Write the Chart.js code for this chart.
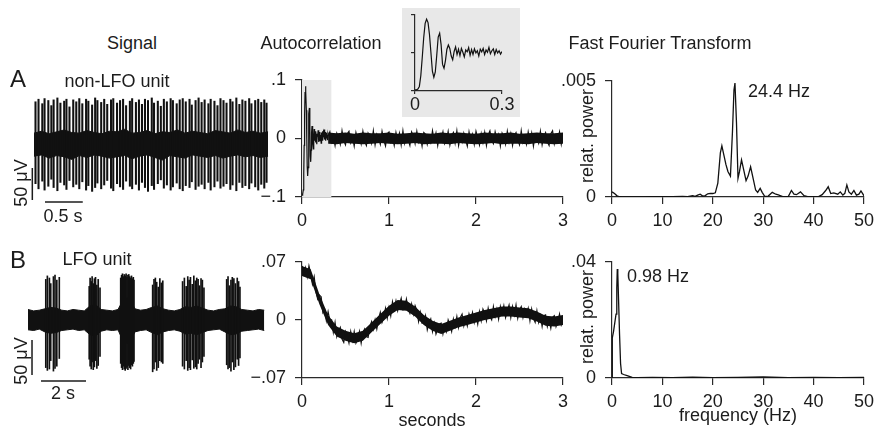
<!DOCTYPE html>
<html>
<head>
<meta charset="utf-8">
<script src="https://cdn.jsdelivr.net/npm/chart.js@4/dist/chart.umd.min.js"></script>
<style>
body { margin: 0; background: #fff; width: 880px; height: 430px; position: relative; overflow: hidden;
       font-family: "Liberation Sans", Arial, Helvetica, sans-serif; color: #1c1c1c; }
canvas { position: absolute; }
.t { position: absolute; font-size: 18px; line-height: 1; white-space: nowrap; transform: translate(-50%, -50%); }
.rot { transform: translate(-50%, -50%) rotate(-90deg); }
.big { font-size: 24px; }
#inset { background: #e8e8e8; }
</style>
</head>
<body>
<canvas id="sigA" width="250" height="120" style="left:25px;top:90px"></canvas>
<canvas id="sigB" width="255" height="125" style="left:20px;top:265px"></canvas>
<canvas id="acA" width="340" height="180" style="left:240px;top:60px"></canvas>
<canvas id="acB" width="340" height="179" style="left:240px;top:242px"></canvas>
<canvas id="fftA" width="340" height="179" style="left:540px;top:61px"></canvas>
<canvas id="fftB" width="340" height="179" style="left:540px;top:242px"></canvas>
<canvas id="inset" width="118" height="109" style="left:402px;top:8px"></canvas>

<div class="t" style="left:132px;top:43px">Signal</div>
<div class="t" style="left:321px;top:43px">Autocorrelation</div>
<div class="t" style="left:660px;top:43px">Fast Fourier Transform</div>
<div class="t big" style="left:18px;top:79px">A</div>
<div class="t" style="left:117px;top:81px">non-LFO unit</div>
<div class="t big" style="left:18px;top:260px">B</div>
<div class="t" style="left:97px;top:259px">LFO unit</div>
<div class="t rot" style="left:21px;top:183px">50 μV</div>
<div class="t" style="left:63px;top:216px">0.5 s</div>
<div class="t rot" style="left:21px;top:361px">50 μV</div>
<div class="t" style="left:63px;top:393px">2 s</div>
<div class="t" style="left:432px;top:420px">seconds</div>
<div class="t" style="left:738px;top:415px">frequency (Hz)</div>
<div class="t rot" style="left:587px;top:136px">relat. power</div>
<div class="t rot" style="left:587px;top:317px">relat. power</div>
<div class="t" style="left:779px;top:91px">24.4 Hz</div>
<div class="t" style="left:658px;top:276px">0.98 Hz</div>

<script>
// ---------- Signal A (non-LFO unit), microvolts over seconds
const bandStepA = 0.1;
const bandHiA = [17, 20, 16, 19, 22, 18, 17, 21, 18, 16, 20, 19, 23, 17, 18, 21,
                 16, 19, 18, 22, 17, 20, 18, 16, 21, 19, 17, 22, 18, 20, 17, 19];
const bandLoA = [-19, -17, -22, -18, -20, -24, -18, -21, -17, -19, -22, -20, -18, -23, -19, -17,
                 -21, -25, -18, -20, -22, -17, -19, -21, -18, -22, -19, -17, -20, -18, -21, -19];
const spikeTimesA = [
  0.02, 0.06, 0.11, 0.14, 0.19, 0.23, 0.26, 0.31, 0.35, 0.40, 0.43, 0.47, 0.52, 0.56, 0.60,
  0.64, 0.69, 0.72, 0.77, 0.81, 0.84, 0.89, 0.93, 0.97, 1.02, 1.05, 1.10, 1.14, 1.18, 1.22,
  1.27, 1.30, 1.35, 1.39, 1.43, 1.47, 1.51, 1.56, 1.59, 1.64, 1.68, 1.72, 1.76, 1.81, 1.84,
  1.89, 1.93, 1.97, 2.01, 2.06, 2.09, 2.14, 2.18, 2.22, 2.26, 2.31, 2.34, 2.39, 2.43, 2.47,
  2.51, 2.55, 2.60, 2.63, 2.68, 2.72, 2.76, 2.80, 2.85, 2.88, 2.93, 2.97, 3.01, 3.05, 3.08];
const spikeTopA = [
  66, 70, 63, 71, 68, 60, 69, 72, 64, 67, 70, 58, 69, 66, 71,
  63, 70, 67, 61, 72, 68, 65, 70, 62, 69, 71, 64, 68, 70, 60,
  67, 71, 65, 69, 62, 70, 68, 72, 64, 67, 59, 70, 66, 71, 68,
  63, 69, 71, 66, 70, 61, 68, 72, 65, 69, 63, 70, 67, 60, 71,
  68, 64, 70, 66, 72, 62, 69, 67, 71, 63, 68, 70, 65, 69, 64];
const spikeBotA = [
  -62, -70, -58, -72, -66, -55, -68, -73, -60, -64, -71, -57, -67, -63, -70,
  -59, -72, -65, -74, -68, -61, -70, -64, -57, -69, -73, -62, -67, -71, -58,
  -66, -70, -63, -72, -60, -68, -74, -65, -71, -62, -56, -69, -64, -72, -67,
  -61, -70, -73, -65, -68, -59, -71, -66, -63, -70, -60, -72, -67, -58, -69,
  -66, -62, -71, -64, -73, -60, -68, -65, -70, -61, -67, -72, -63, -69, -60];
// 50 uV and 0.5 s scale bars
const scaleBarVA = [[-0.022, -37.5], [-0.022, -87.5]];
const scaleBarHA = [[0.146, -90.6], [0.646, -90.6]];

// ---------- Signal B (LFO unit)
const bandStepB = 0.25;
const bandHiB = [15, 13, 14, 16, 18, 17, 14, 13, 15, 14, 13, 20, 22, 15, 14, 13, 15, 30, 32, 16, 14, 15,
                 18, 20, 16, 14, 13, 15, 19, 18, 20, 17, 14, 13, 15, 16, 20, 19, 15, 14, 13, 15, 14];
const bandLoB = [-14, -15, -13, -17, -19, -18, -15, -14, -13, -15, -14, -21, -23, -16, -14, -15, -14, -32, -34, -17, -15, -14,
                 -18, -21, -17, -15, -14, -16, -20, -19, -21, -18, -15, -14, -13, -17, -21, -20, -16, -15, -14, -13, -15];
const spikeTimesB = [
  0.79, 0.86, 0.95, 1.01, 1.13, 1.20, 1.28, 1.39,
  2.72, 2.76, 2.81, 2.85, 2.90, 2.95, 3.00, 3.06, 3.12, 3.20,
  4.12, 4.16, 4.20, 4.24, 4.28, 4.32, 4.36, 4.40, 4.44, 4.48, 4.52, 4.56, 4.60, 4.64, 4.68, 4.71,
  5.54, 5.60, 5.66, 5.72, 5.79, 5.86, 5.93, 5.99,
  6.87, 6.95, 7.03, 7.10, 7.16, 7.22, 7.30, 7.37, 7.44, 7.50, 7.56, 7.62, 7.69, 7.75, 7.82,
  8.83, 8.89, 8.95, 9.02, 9.08, 9.15, 9.22, 9.30, 9.36, 9.42];
const spikeTopB = [
  58, 63, 60, 52, 62, 64, 57, 61,
  48, 60, 55, 62, 52, 59, 61, 50, 58, 46,
  60, 64, 66, 62, 65, 63, 66, 61, 64, 65, 62, 60, 63, 59, 61, 57,
  50, 58, 60, 54, 47, 59, 53, 56,
  55, 60, 48, 62, 57, 61, 51, 63, 56, 60, 58, 49, 59, 57, 46,
  58, 62, 49, 57, 61, 59, 52, 60, 55, 47];
const spikeBotB = [
  -68, -72, -70, -58, -73, -69, -66, -55,
  -56, -66, -70, -60, -71, -67, -58, -69, -65, -52,
  -62, -68, -71, -66, -70, -72, -69, -67, -71, -65, -68, -70, -64, -66, -62, -59,
  -74, -70, -60, -72, -68, -58, -60, -62,
  -66, -70, -58, -72, -68, -71, -57, -69, -67, -70, -62, -56, -68, -60, -52,
  -64, -70, -68, -73, -60, -71, -67, -56, -65, -54];
// 50 uV and 2 s scale bars
const scaleBarVB = [[0.178, -28.6], [0.178, -78.6]];
const scaleBarHB = [[0.578, -87.1], [2.578, -87.1]];

// ---------- Autocorrelation A: 0-0.3 s finely sampled, then 0.32-3 s
const acEarlyStepA = 0.005;
const acEarlyA = [
  -0.097, -0.097, -0.095, -0.088, -0.060, -0.012, 0.040, 0.078, 0.089, 0.080,
  0.048, 0.000, -0.048, -0.064, -0.050, -0.006, 0.042, 0.052, 0.022, -0.030,
  -0.040, -0.020, 0.010, 0.021, 0.012, -0.008, -0.018, 0.004, 0.016, -0.004,
  0.010, -0.007, 0.012, 0.002, -0.010, 0.008, 0.003, 0.014, -0.006, 0.009,
  -0.004, 0.011, 0.000, 0.006, -0.008, 0.010, 0.003, 0.012, -0.004, 0.008,
  0.002, 0.015, -0.002, 0.006, 0.011, -0.004, 0.009, 0.000, 0.006, -0.003, 0.004];
const acLateStartA = 0.32;
const acLateStepA = 0.02;
const acLateA = [
  0.011, -0.006, 0.004, -0.012, 0.009, 0.002, -0.010, 0.013, -0.004, -0.011,
  0.008, 0.012, -0.007, 0.003, -0.013, 0.010, -0.002, 0.006, -0.009, 0.012,
  -0.005, -0.012, 0.009, 0.004, -0.008, 0.013, -0.011, 0.007, 0.001, -0.010,
  0.012, -0.003, -0.013, 0.008, 0.011, -0.006, 0.002, -0.012, 0.010, -0.004,
  0.009, -0.011, 0.013, -0.008, 0.005, -0.002, -0.012, 0.011, 0.004, -0.009,
  0.012, -0.006, 0.003, -0.013, 0.010, 0.007, -0.010, 0.002, -0.007, 0.013,
  -0.004, 0.009, -0.012, 0.006, -0.001, 0.011, -0.009, -0.003, 0.012, -0.011,
  0.005, 0.010, -0.008, 0.013, -0.012, 0.004, -0.006, 0.009, -0.002, -0.013,
  0.011, -0.005, 0.007, -0.010, 0.012, 0.001, -0.011, 0.008, -0.007, 0.010,
  -0.012, 0.006, 0.013, -0.004, -0.009, 0.011, -0.001, 0.007, -0.013, 0.009,
  0.003, -0.010, 0.012, -0.006, 0.008, -0.012, 0.005, 0.010, -0.003, -0.011,
  0.013, -0.007, 0.002, -0.010, 0.011, -0.005, 0.009, -0.013, 0.006, 0.001,
  -0.008, 0.012, -0.011, 0.004, 0.010, -0.006, -0.012, 0.008, 0.013, -0.009,
  0.005, -0.003, 0.011, -0.010, 0.007];
// dense core of the trace (0.3-3 s), where it reads as a solid band
const coreStartA = 0.3;
const coreStepA = 0.1;
const coreHiA = [0.010, 0.009, 0.010, 0.008, 0.010, 0.009, 0.009, 0.010, 0.008, 0.009, 0.010, 0.009, 0.008, 0.010,
                 0.009, 0.010, 0.009, 0.008, 0.010, 0.009, 0.009, 0.010, 0.008, 0.009, 0.010, 0.009, 0.009, 0.010];
const coreLoA = [-0.009, -0.010, -0.008, -0.009, -0.010, -0.009, -0.008, -0.009, -0.010, -0.009, -0.008, -0.010, -0.009, -0.009,
                 -0.010, -0.008, -0.009, -0.010, -0.009, -0.008, -0.010, -0.009, -0.009, -0.010, -0.008, -0.009, -0.010, -0.009];
const shadeA = [0, 0.34];

// ---------- Autocorrelation B: 0-3 s
const acStepB = 0.02;
const acB = [
  0.065, 0.055, 0.063, 0.052, 0.065, 0.056, 0.043, 0.052, 0.034, 0.025,
  0.030, 0.028, 0.009, 0.013, -0.001, 0.010, -0.001, 0.000, -0.015, -0.003,
  -0.020, -0.013, -0.009, -0.023, -0.027, -0.014, -0.019, -0.028, -0.014, -0.025,
  -0.014, -0.028, -0.023, -0.014, -0.028, -0.015, -0.011, -0.020, -0.021, -0.008,
  -0.002, -0.011, 0.000, -0.011, 0.001, 0.009, -0.003, 0.003, 0.014, 0.002,
  0.015, 0.005, 0.022, 0.013, 0.023, 0.011, 0.019, 0.026, 0.012, 0.013,
  0.025, 0.014, 0.008, 0.019, 0.007, 0.017, 0.011, -0.002, 0.009, -0.004,
  -0.003, 0.005, -0.012, -0.004, 0.001, -0.014, -0.004, -0.017, -0.011, -0.005,
  -0.004, -0.017, -0.007, -0.014, 0.000, -0.006, -0.014, 0.001, -0.008, 0.004,
  -0.009, 0.003, 0.007, -0.007, 0.002, -0.007, 0.007, 0.000, 0.009, -0.003,
  0.006, -0.005, 0.010, -0.001, 0.013, 0.008, -0.001, 0.014, 0.004, 0.000,
  0.016, 0.004, 0.013, 0.001, 0.016, 0.007, 0.017, 0.003, 0.011, 0.018,
  0.003, 0.016, 0.006, 0.018, 0.002, 0.012, 0.016, 0.003, 0.013, 0.006,
  0.014, -0.001, 0.013, 0.002, -0.003, 0.011, -0.003, 0.005, -0.008, 0.005,
  0.006, -0.008, 0.000, -0.010, 0.003, 0.005, -0.008, -0.002, 0.007, -0.006,
  0.000];
const coreStepB = 0.1;
const coreHiB = [0.065, 0.061, 0.031, 0.006, -0.008, -0.013, -0.016, -0.013, -0.003, 0.007, 0.017, 0.024, 0.023, 0.016, 0.006, -0.001,
                 -0.005, -0.001, 0.003, 0.006, 0.009, 0.012, 0.014, 0.016, 0.016, 0.015, 0.014, 0.010, 0.005, 0.004, 0.006];
const coreLoB = [0.053, 0.049, 0.019, -0.006, -0.020, -0.025, -0.028, -0.025, -0.015, -0.005, 0.005, 0.012, 0.011, 0.004, -0.006, -0.013,
                 -0.017, -0.013, -0.009, -0.006, -0.003, 0.000, 0.002, 0.004, 0.004, 0.003, 0.002, -0.002, -0.007, -0.008, -0.006];

// ---------- FFT
const fftFreqA = [
  0, 0.5, 1, 1.5, 2, 4, 6, 8, 10, 12,
  14, 15, 16, 16.5, 17, 17.5, 18, 18.5, 19, 19.5,
  20, 20.5, 21, 21.5, 21.8, 22.2, 22.6, 23, 23.5, 23.9,
  24.2, 24.4, 24.7, 25, 25.3, 25.7, 26.1, 26.6, 27, 27.5,
  28, 28.5, 28.9, 29.4, 29.8, 30.3, 31, 31.8, 32.5, 33,
  34, 35, 35.6, 36.1, 36.6, 37.4, 38.1, 39, 40, 41,
  41.7, 42.4, 42.9, 43.4, 44, 44.8, 45.3, 45.8, 46.2, 46.6,
  47, 47.5, 48, 48.5, 49, 49.4, 50];
const fftPowA = [
  0.00022, 0.00015, 0.00005, 0.00001, 0, 0, 0, 0.00001, 0.00002, 0.00001,
  0.00003, 0.00002, 0.00006, 0.00003, 0.00008, 0.00012, 0.00004, 0.00006, 0.00014, 0.00016,
  0.00015, 0.00018, 0.0006, 0.0019, 0.0022, 0.0018, 0.0014, 0.0011, 0.0009, 0.0028,
  0.0046, 0.0049, 0.0032, 0.0008, 0.0011, 0.0016, 0.0012, 0.0007, 0.0009, 0.0013,
  0.0008, 0.0003, 0.0002, 0.00037, 0.0002, 0.00003, 0.00004, 0.0002, 0.00012, 0.00009,
  0.00001, 0.00003, 0.00028, 0.00012, 0.0001, 0.00022, 0.00006, 0.00001, 0.00001, 0.00002,
  0.0001, 0.00028, 0.00044, 0.00015, 0.00018, 0.00012, 0.00022, 0.00008, 0.00016, 0.00052,
  0.00022, 0.00012, 0.00028, 0.00008, 0.00012, 0.00026, 0.00005];
const fftFreqB = [0, 0.06, 0.3, 0.55, 0.8, 0.95, 1.05, 1.15, 1.3, 1.5,
                  1.7, 1.9, 2.3, 3, 4, 5, 8, 12, 16, 20, 25, 30, 35, 40, 45, 50];
const fftPowB = [0, 0.0138, 0.016, 0.019, 0.022, 0.031, 0.0375, 0.036, 0.027, 0.015,
                 0.005, 0.0015, 0.0012, 0.0008, 0.0002, 0.0001, 0.0002, 0.0001, 0.0003, 0.0001,
                 0.0002, 0.0004, 0.0001, 0.0002, 0.0001, 0.0002];

// ---------- ticks
const acTicksX = [0, 1, 2, 3];
const acLabelsX = ['0', '1', '2', '3'];
const acTicksYA = [-0.1, 0, 0.1];
const acLabelsYA = ['\u2212.1', '0', '.1'];
const acTicksYB = [-0.07, 0, 0.07];
const acLabelsYB = ['\u2212.07', '0', '.07'];
const fftTicksX = [0, 10, 20, 30, 40, 50];
const fftLabelsX = ['0', '10', '20', '30', '40', '50'];
const fftTicksYA = [0, 0.005];
const fftLabelsYA = ['0', '.005'];
const fftTicksYB = [0, 0.04];
const fftLabelsYB = ['0', '.04'];
const insetTicksX = [0, 0.3];
const insetLabelsX = ['0', '0.3'];

const INK = '#111';
const TEXT = '#1c1c1c';
const AXIS = '#2a2a2a';
const FONT = { family: '"Liberation Sans", Arial, Helvetica, sans-serif', size: 18 };

function sampled(start, step, values) {
    return values.map((v, i) => ({ x: start + i * step, y: v }));
}

function pairs(xs, ys) {
    return xs.map((x, i) => ({ x: x, y: ys[i] }));
}

function spikes(times, tops, bots) {
    return times.map((t, i) => ({ x: t, y: [bots[i], tops[i]] }));
}

function points(list) {
    return list.map(p => ({ x: p[0], y: p[1] }));
}

function fixedTicks(values) {
    return function (scale) {
        scale.ticks = values.map(v => ({ value: v }));
    };
}

function axis(min, max, values, labels, size, tickLen, pad, showLabels) {
    return {
        type: 'linear', min: min, max: max, offset: false,
        afterBuildTicks: fixedTicks(values),
        afterFit: s => { if (s.isHorizontal()) s.height = size; else s.width = size; },
        grid: { drawOnChartArea: false, drawTicks: true, tickLength: tickLen, color: AXIS, lineWidth: 1.2 },
        border: { display: true, color: AXIS, width: 1.2 },
        ticks: {
            display: showLabels !== false, autoSkip: false, maxRotation: 0, padding: pad,
            color: TEXT, font: FONT, callback: (v, i) => labels[i]
        }
    };
}

function hidden(min, max) {
    return { type: 'linear', min: min, max: max, display: false, offset: false };
}

function makeChart(id, datasets, scales, padding) {
    return new Chart(document.getElementById(id), {
        type: 'line',
        data: { datasets: datasets },
        options: {
            responsive: false, animation: false, devicePixelRatio: 1,
            layout: { padding: padding },
            plugins: { legend: { display: false }, tooltip: { enabled: false } },
            elements: { point: { radius: 0 }, line: { tension: 0 } },
            scales: scales
        }
    });
}

function line(data, width) {
    return { data: data, borderColor: INK, borderWidth: width, fill: false };
}

// a filled band between an upper and a lower edge (two datasets)
function band(start, step, hi, lo, edge) {
    return [
        { data: sampled(start, step, hi), borderColor: INK, backgroundColor: INK, borderWidth: edge, fill: '+1' },
        { data: sampled(start, step, lo), borderColor: INK, borderWidth: edge, fill: false }
    ];
}

function signalSets(bandStep, hi, lo, spikeData, barWidth, barV, barH) {
    return [
        { type: 'bar', data: spikeData, backgroundColor: INK, borderWidth: 0, barThickness: barWidth }
    ].concat(band(0, bandStep, hi, lo, 1), [
        { data: points(barV), borderColor: TEXT, borderWidth: 1.5, fill: false },
        { data: points(barH), borderColor: TEXT, borderWidth: 1.5, fill: false }
    ]);
}

// signals
makeChart('sigA',
    signalSets(bandStepA, bandHiA, bandLoA, spikes(spikeTimesA, spikeTopA, spikeBotA), 1.4, scaleBarVA, scaleBarHA),
    { x: hidden(-0.119, 3.192), y: hidden(-103.1, 84.4) }, 0);

makeChart('sigB',
    signalSets(bandStepB, bandHiB, bandLoB, spikes(spikeTimesB, spikeTopB, spikeBotB), 1, scaleBarVB, scaleBarHB),
    { x: hidden(-0.356, 10.978), y: hidden(-100, 78.57) }, 0);

// autocorrelations
const acAData = sampled(0, acEarlyStepA, acEarlyA).concat(sampled(acLateStartA, acLateStepA, acLateA));
makeChart('acA', [line(acAData, 1.2)].concat(band(coreStartA, coreStepA, coreHiA, coreLoA, 0), [
    { data: [{ x: shadeA[0], y: 0.1 }, { x: shadeA[1], y: 0.1 }], borderWidth: 0,
      borderColor: 'rgba(0,0,0,0)', backgroundColor: '#e8e8e8', fill: 'start' }
]), {
    x: axis(0, 3, acTicksX, acLabelsX, 43, 7, 6),
    y: axis(-0.1, 0.1, acTicksYA, acLabelsYA, 62, 7, 9)
}, { left: 0, top: 17, right: 17, bottom: 0 });

makeChart('acB', [line(sampled(0, acStepB, acB), 1.2)].concat(band(0, coreStepB, coreHiB, coreLoB, 0)), {
    x: axis(0, 3, acTicksX, acLabelsX, 43, 7, 6),
    y: axis(-0.07, 0.07, acTicksYB, acLabelsYB, 62, 7, 9)
}, { left: 0, top: 17, right: 17, bottom: 0 });

// FFTs
makeChart('fftA', [line(pairs(fftFreqA, fftPowA), 1.3)], {
    x: axis(0, 50, fftTicksX, fftLabelsX, 43, 7, 6),
    y: axis(0, 0.005, fftTicksYA, fftLabelsYA, 72, 7, 9)
}, { left: 0, top: 17, right: 12, bottom: 0 });

makeChart('fftB', [line(pairs(fftFreqB, fftPowB), 1.3)], {
    x: axis(0, 50, fftTicksX, fftLabelsX, 43, 7, 6),
    y: axis(0, 0.04, fftTicksYB, fftLabelsYB, 72, 7, 9)
}, { left: 0, top: 17, right: 12, bottom: 0 });

// inset: first 0.3 s of autocorrelation A
makeChart('inset', [line(sampled(0, acEarlyStepA, acEarlyA), 1.2)], {
    x: axis(0, 0.3, insetTicksX, insetLabelsX, 26, 3, 0),
    y: axis(-0.1, 0.1, acTicksYA, acLabelsYA, 13, 4, 0, false)
}, { left: 0, top: 7, right: 18, bottom: 0 });
</script>
</body>
</html>
